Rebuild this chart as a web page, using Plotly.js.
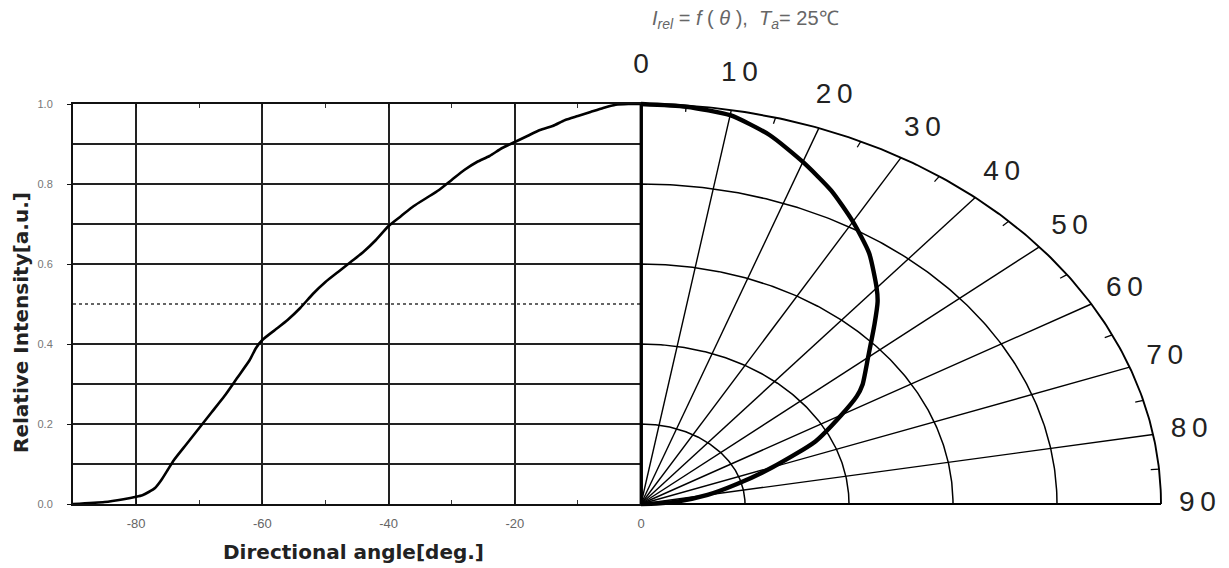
<!DOCTYPE html>
<html>
<head>
<meta charset="utf-8">
<script src="https://cdn.plot.ly/plotly-3.0.1.min.js"></script>
<style>html,body{margin:0;padding:0;background:#fff;}#chart{width:1229px;height:568px;}</style>
</head>
<body>
<div id="chart"></div>
<script>
// ---- data ----
const leftAngle = [-90,-85,-82,-80,-79,-78,-77,-76,-75,-74,-72,-70,-68,-66,-64,-62,-61,-60,-58,-56,-54,-52,-50,-48,-46,-44,-42,-40,-38,-36,-34,-32,-30,-28,-26,-24,-22,-20,-18,-16,-14,-12,-10,-8,-6,-4,-2,0];
const leftIntensity = [0.0,0.005,0.012,0.018,0.022,0.03,0.04,0.06,0.085,0.11,0.15,0.19,0.23,0.27,0.315,0.36,0.39,0.41,0.435,0.46,0.49,0.525,0.555,0.58,0.605,0.63,0.66,0.695,0.72,0.745,0.765,0.785,0.81,0.835,0.855,0.87,0.89,0.905,0.92,0.935,0.945,0.96,0.97,0.98,0.99,0.998,1.0,1.0];

const polarAngle = [0,5,10,15,20,25,30,35,40,42,45,50,55,57,60,65,70,75,80,85,88,90];
const polarIntensity = [1.0,0.997,0.987,0.955,0.91,0.865,0.815,0.765,0.705,0.68,0.635,0.57,0.52,0.495,0.445,0.37,0.27,0.19,0.13,0.07,0.03,0.0];

const xTickVals = [-80,-60,-40,-20,0];
const xTickText = ['-80','-60','-40','-20','0'];
const yTickVals = [0,0.2,0.4,0.6,0.8,1.0];
const yTickText = ['0.0','0.2','0.4','0.6','0.8','1.0'];
const yMinorVals = [0.1,0.3,0.7,0.9];
const halfLevel = 0.5;

const polarRings = [0.2,0.4,0.6,0.8,1.0];
const polarSpokes = [0,10,20,30,40,50,60,70,80,90];
const polarMinorTicks = [5,15,25,35,45,55,65,75,85];
const angleLabelVals = [0,10,20,30,40,50,60,70,80,90];
const angleLabelText = ['0','10','20','30','40','50','60','70','80','90'];

const titleText = '<i>I</i><sub><i>rel</i></sub> = <i>f</i> ( <i>θ</i> ),  <i>T</i><sub><i>a</i></sub>= 25℃';
const xTitle = 'Directional angle[deg.]';
const yTitle = 'Relative Intensity[a.u.]';

// ---- geometry helpers (pixel frame of the page) ----
const W = 1229, H = 568;
const leftPx = 73, originPx = 641, outerPx = 1161, topPx = 104, bottomPx = 504;
const rad = d => d * Math.PI / 180;
const px = (r, d) => r * Math.sin(rad(d));
const py = (r, d) => r * Math.cos(rad(d));
const labelR = d => 1.095 - 0.025 * Math.sin(rad(d));

const traces = [];
// left cartesian: half-level dotted line and intensity curve
traces.push({x:[-90,0], y:[halfLevel,halfLevel], xaxis:'x', yaxis:'y', mode:'lines',
  line:{color:'#333', width:1.6, dash:'dot'}, hoverinfo:'skip', showlegend:false});
traces.push({x:leftAngle, y:leftIntensity, xaxis:'x', yaxis:'y', mode:'lines',
  line:{color:'#000', width:2.6, shape:'spline', smoothing:0.6}, showlegend:false, name:'I_rel'});

// polar grid on x2/y2 (stretched quarter-ellipse)
polarRings.forEach(r => {
  const xs = [], ys = [];
  for (let d = 0; d <= 90; d += 0.5) { xs.push(px(r,d)); ys.push(py(r,d)); }
  traces.push({x:xs, y:ys, xaxis:'x2', yaxis:'y2', mode:'lines',
    line:{color:'#000', width: r === 1 ? 1.9 : 1.5}, hoverinfo:'skip', showlegend:false});
});
polarSpokes.forEach(d => {
  traces.push({x:[0, px(1,d)], y:[0, py(1,d)], xaxis:'x2', yaxis:'y2', mode:'lines',
    line:{color:'#000', width: d === 0 ? 2.8 : (d === 90 ? 2.0 : 1.4)}, hoverinfo:'skip', showlegend:false});
});
polarMinorTicks.forEach(d => {
  traces.push({x:[px(0.984,d), px(1,d)], y:[py(0.984,d), py(1,d)], xaxis:'x2', yaxis:'y2', mode:'lines',
    line:{color:'#000', width:1.3}, hoverinfo:'skip', showlegend:false});
});
// polar intensity curve
traces.push({x:polarAngle.map((d,i)=>px(polarIntensity[i],d)), y:polarAngle.map((d,i)=>py(polarIntensity[i],d)),
  xaxis:'x2', yaxis:'y2', mode:'lines', line:{color:'#000', width:4.4, shape:'spline', smoothing:0.6},
  showlegend:false, name:'I_rel polar'});
// angle labels
traces.push({x:angleLabelVals.map(d=>px(labelR(d),d)), y:angleLabelVals.map(d=>py(labelR(d),d)),
  text:angleLabelText.map(t=>t.split('').join('\u2009')), xaxis:'x2', yaxis:'y2', mode:'text',
  textposition:'middle center', cliponaxis:false,
  textfont:{family:'Liberation Sans, Arial, sans-serif', size:28, color:'#222'}, hoverinfo:'skip', showlegend:false});

// x2/y2 span the right half of the page, scaled so that radius 1 = outer arc
const x2d0 = 0.5;
const x2Range = [(x2d0*W - originPx)/(outerPx-originPx), (W - originPx)/(outerPx-originPx)];
const y2Range = [(bottomPx - H)/(bottomPx-topPx), (bottomPx - 0)/(bottomPx-topPx)];

const titleFont = {family:'DejaVu Sans, sans-serif', size:20, color:'#222', weight:'bold'};
const layout = {
  width:W, height:H, autosize:false,
  margin:{l:0, r:0, t:0, b:0},
  paper_bgcolor:'#fff', plot_bgcolor:'rgba(0,0,0,0)',
  showlegend:false,
  xaxis:{domain:[leftPx/W, originPx/W], range:[-90,0], anchor:'y',
    tickmode:'array', tickvals:xTickVals, ticktext:xTickText,
    tickfont:{family:'Liberation Sans, Arial, sans-serif', size:13, color:'#666'}, ticklabelstandoff:6,
    ticks:'inside', ticklen:4, tickcolor:'#111', mirror:'ticks',
    showline:true, linecolor:'#111', linewidth:2,
    showgrid:true, gridcolor:'#222', gridwidth:2, zeroline:false,
    minor:{dtick:10, tick0:-90, ticks:'inside', ticklen:4, tickcolor:'#333', showgrid:false},
    fixedrange:true},
  yaxis:{domain:[(H-bottomPx)/H, (H-topPx)/H], range:[0,1], anchor:'x',
    tickmode:'array', tickvals:yTickVals, ticktext:yTickText,
    tickfont:{family:'Liberation Sans, Arial, sans-serif', size:11, color:'#777'}, ticklabelstandoff:12,
    ticks:'outside', ticklen:4, tickcolor:'#111', mirror:'ticks',
    showline:true, linecolor:'#111', linewidth:2,
    showgrid:true, gridcolor:'#222', gridwidth:2, zeroline:false,
    minor:{tickmode:'array', tickvals:yMinorVals, ticks:'', showgrid:true, gridcolor:'#222', gridwidth:2},
    fixedrange:true},
  xaxis2:{domain:[x2d0,1], range:x2Range, anchor:'y2', visible:false, fixedrange:true},
  yaxis2:{domain:[0,1], range:y2Range, anchor:'x2', visible:false, fixedrange:true},
  annotations:[
    {text:titleText, xref:'paper', yref:'paper', x:745/W, y:1-20/H,
      showarrow:false, xanchor:'center', yanchor:'middle',
      font:{family:'Liberation Sans, Arial, sans-serif', size:20, color:'#666'}},
    {text:xTitle, xref:'paper', yref:'paper', x:353/W, y:1-552/H,
      showarrow:false, xanchor:'center', yanchor:'middle', font:titleFont},
    {text:yTitle, xref:'paper', yref:'paper', x:21/W, y:1-323/H, textangle:-90,
      showarrow:false, xanchor:'center', yanchor:'middle', font:titleFont}
  ]
};

Plotly.newPlot('chart', traces, layout, {displayModeBar:false, staticPlot:true});
</script>
</body>
</html>
